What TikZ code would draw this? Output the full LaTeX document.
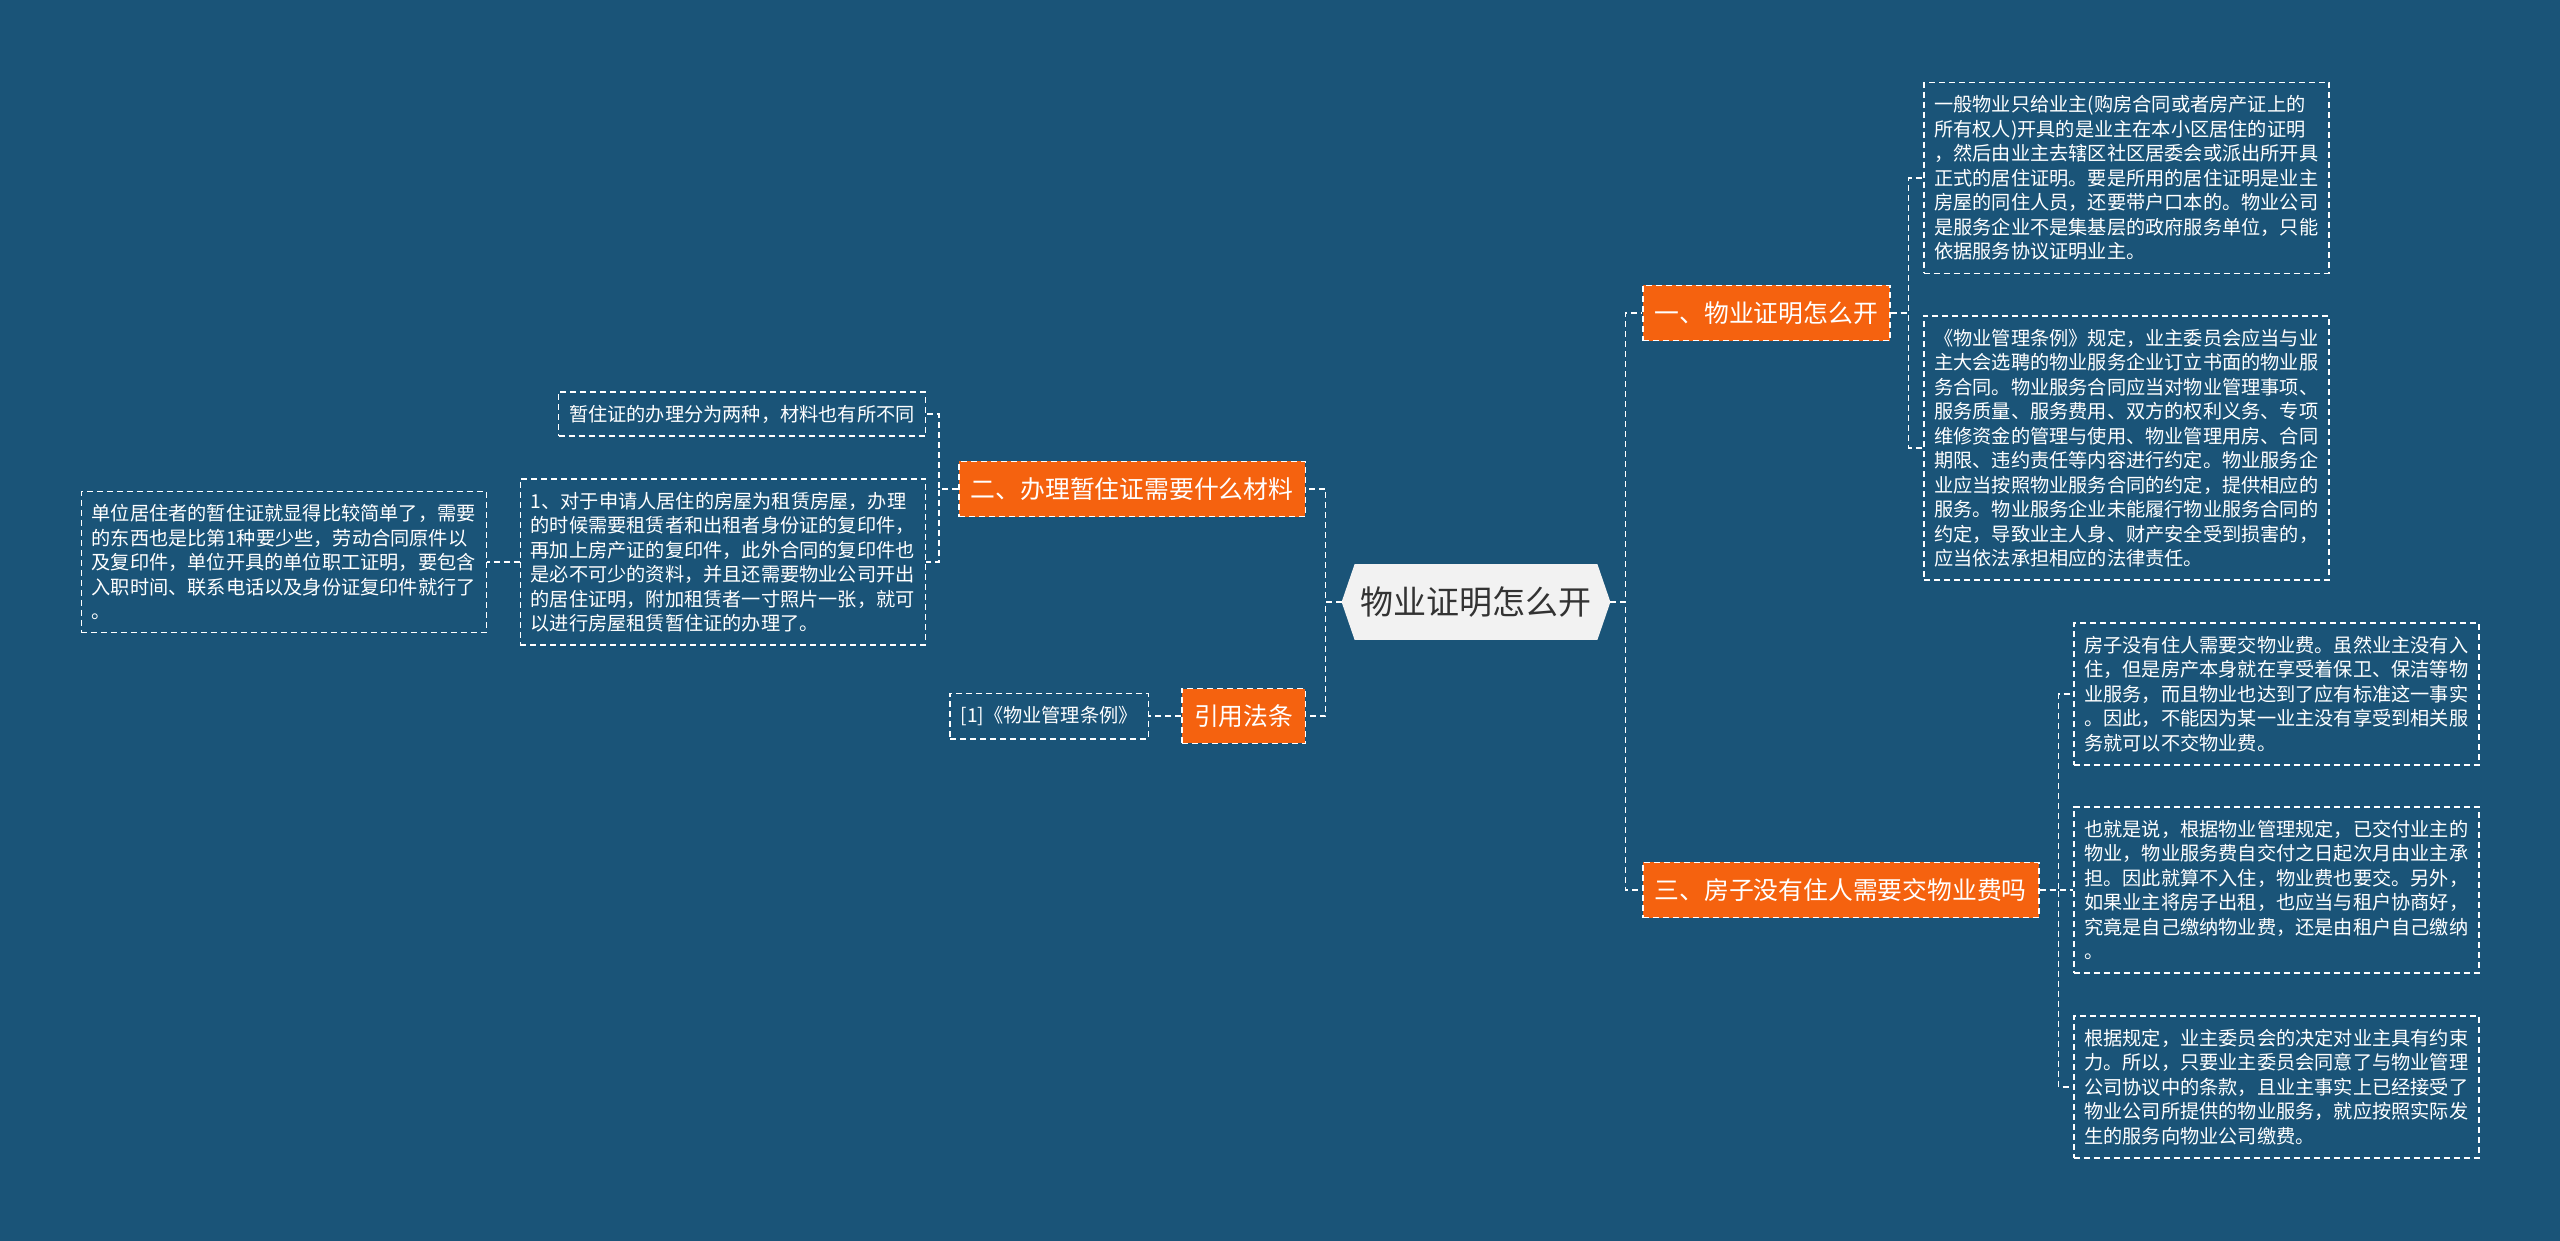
\documentclass[tikz,border=0pt]{standalone}
\usepackage{fontspec}
\setmainfont{Noto Sans CJK SC}
\usetikzlibrary{positioning, backgrounds, calc}
\definecolor{mapbg}{HTML}{1A5478}
\definecolor{maporange}{HTML}{F5620F}
\definecolor{rootgray}{HTML}{F2F2F2}
\definecolor{roottext}{HTML}{333333}

\begin{document}
\begin{tikzpicture}[x=0.5pt, y=-0.5pt,
    dashline/.style={draw=white, line width=0.75pt, dash pattern=on 3pt off 2pt},
    root/.style={text=roottext, font=\fontsize{16.5pt}{18pt}\selectfont,
                 minimum width=134pt, minimum height=37.5pt, inner sep=0pt},
    topic/.style={dashline, fill=maporange, text=white, font=\fontsize{12.4pt}{14pt}\selectfont,
                  inner xsep=6pt, inner ysep=8pt},
    leaf/.style={dashline, text=white, font=\fontsize{9.6pt}{12.25pt}\selectfont,
                 inner xsep=5.25pt, inner ysep=6.5pt, align=left},
    leafw/.style={leaf, text width=192pt},
    link/.style={dashline},
]
    % Centre
    \node[root] (root) at (1476,602) {物业证明怎么开};

    % Main branches
    \node[topic, anchor=west] (t1) at (1642,313) {一、物业证明怎么开};
    \node[topic, anchor=west] (t3) at (1642,890) {三、房子没有住人需要交物业费吗};
    \node[topic, anchor=east] (t2) at (1306,489) {二、办理暂住证需要什么材料};
    \node[topic, anchor=east] (t4) at (1306,716) {引用法条};

    % Right leaves
    \node[leafw, anchor=west] (r1) at (1923,178) {一般物业只给业主(购房合同或者房产证上的\\
        所有权人)开具的是业主在本小区居住的证明\\
        ，然后由业主去辖区社区居委会或派出所开具\\
        正式的居住证明。要是所用的居住证明是业主\\
        房屋的同住人员，还要带户口本的。物业公司\\
        是服务企业不是集基层的政府服务单位，只能\\
        依据服务协议证明业主。};
    \node[leafw, anchor=west] (r2) at (1923,448) {《物业管理条例》规定，业主委员会应当与业\\
        主大会选聘的物业服务企业订立书面的物业服\\
        务合同。物业服务合同应当对物业管理事项、\\
        服务质量、服务费用、双方的权利义务、专项\\
        维修资金的管理与使用、物业管理用房、合同\\
        期限、违约责任等内容进行约定。物业服务企\\
        业应当按照物业服务合同的约定，提供相应的\\
        服务。物业服务企业未能履行物业服务合同的\\
        约定，导致业主人身、财产安全受到损害的，\\
        应当依法承担相应的法律责任。};
    \node[leafw, anchor=west] (r3) at (2073,694) {房子没有住人需要交物业费。虽然业主没有入\\
        住，但是房产本身就在享受着保卫、保洁等物\\
        业服务，而且物业也达到了应有标准这一事实\\
        。因此，不能因为某一业主没有享受到相关服\\
        务就可以不交物业费。};
    \node[leafw, anchor=west] (r4) at (2073,890) {也就是说，根据物业管理规定，已交付业主的\\
        物业，物业服务费自交付之日起次月由业主承\\
        担。因此就算不入住，物业费也要交。另外，\\
        如果业主将房子出租，也应当与租户协商好，\\
        究竟是自己缴纳物业费，还是由租户自己缴纳\\
        。};
    \node[leafw, anchor=west] (r5) at (2073,1087) {根据规定，业主委员会的决定对业主具有约束\\
        力。所以，只要业主委员会同意了与物业管理\\
        公司协议中的条款，且业主事实上已经接受了\\
        物业公司所提供的物业服务，就应按照实际发\\
        生的服务向物业公司缴费。};

    % Left leaves
    \node[leaf, anchor=east] (l1) at (926,414) {暂住证的办理分为两种，材料也有所不同};
    \node[leafw, anchor=east] (l2) at (926,562) {1、对于申请人居住的房屋为租赁房屋，办理\\
        的时候需要租赁者和出租者身份证的复印件，\\
        再加上房产证的复印件，此外合同的复印件也\\
        是必不可少的资料，并且还需要物业公司开出\\
        的居住证明，附加租赁者一寸照片一张，就可\\
        以进行房屋租赁暂住证的办理了。};
    \node[leafw, anchor=east] (l3) at (487,562) {单位居住者的暂住证就显得比较简单了，需要\\
        的东西也是比第1种要少些，劳动合同原件以\\
        及复印件，单位开具的单位职工证明，要包含\\
        入职时间、联系电话以及身份证复印件就行了\\
        。};
    \node[leaf, anchor=east] (ref) at (1149,716) {[1]《物业管理条例》};

    % Connectors
    \draw[link] (root.east) -- ++(15,0) |- (t1.west);
    \draw[link] (root.east) -- ++(15,0) |- (t3.west);
    \draw[link] (root.west) -- ++(-16,0) |- (t2.east);
    \draw[link] (root.west) -- ++(-16,0) |- (t4.east);
    \draw[link] (t1.east) -- ++(18,0) |- (r1.west);
    \draw[link] (t1.east) -- ++(18,0) |- (r2.west);
    \draw[link] (t3.east) -- ++(19,0) |- (r3.west);
    \draw[link] (t3.east) -- ++(19,0) |- (r4.west);
    \draw[link] (t3.east) -- ++(19,0) |- (r5.west);
    \draw[link] (t2.west) -- ++(-19,0) |- (l1.east);
    \draw[link] (t2.west) -- ++(-19,0) |- (l2.east);
    \draw[link] (l2.west) -- (l3.east);
    \draw[link] (t4.west) -- (ref.east);

    \begin{scope}[on background layer]
        \fill[mapbg] (0,0) rectangle (2560,1241);
        \fill[rootgray] (root.west) -- ([xshift=6.5pt]root.north west)
            -- ([xshift=-6.5pt]root.north east) -- (root.east)
            -- ([xshift=-6.5pt]root.south east) -- ([xshift=6.5pt]root.south west) -- cycle;
    \end{scope}
\end{tikzpicture}
\end{document}
